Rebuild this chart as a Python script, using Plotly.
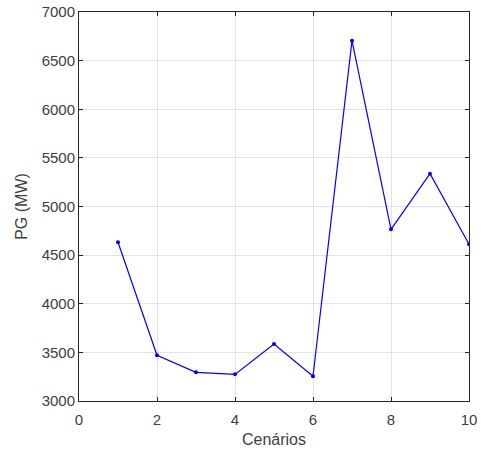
import plotly.graph_objects as go

# Scenario index and generated power (MW)
cenarios = [1, 2, 3, 4, 5, 6, 7, 8, 9, 10]
pg_mw = [4632, 3470, 3295, 3274, 3586, 3254, 6705, 4765, 5337, 4611]

x_ticks = [0, 2, 4, 6, 8, 10]
y_ticks = [3000, 3500, 4000, 4500, 5000, 5500, 6000, 6500, 7000]

axis_color = "#262626"
grid_color = "#e3e3e3"
text_color = "#404040"
font_family = "Liberation Sans, Arial, sans-serif"

fig = go.Figure(
    go.Scatter(
        x=cenarios,
        y=pg_mw,
        mode="lines+markers",
        line=dict(color="#0000ff", width=1.2),
        marker=dict(color="#0000ff", size=4),
        showlegend=False,
    )
)

common_axis = dict(
    showline=True,
    linecolor=axis_color,
    linewidth=1,
    mirror="ticks",
    ticks="inside",
    ticklen=4,
    tickcolor=axis_color,
    showgrid=True,
    gridcolor=grid_color,
    gridwidth=1,
    zeroline=False,
    automargin=False,
    tickfont=dict(family=font_family, size=15, color=text_color),
)

fig.update_xaxes(
    range=[0, 10],
    tickvals=x_ticks,
    ticklabelstandoff=5,
    title=dict(text="Cenários", font=dict(family=font_family, size=16, color=text_color), standoff=6),
    **common_axis,
)
fig.update_yaxes(
    range=[3000, 7000],
    tickvals=y_ticks,
    title=dict(text="PG (MW)", font=dict(family=font_family, size=16, color=text_color), standoff=10),
    **common_axis,
)

fig.update_layout(
    width=481,
    height=450,
    margin=dict(l=79, r=12, t=12, b=49),
    paper_bgcolor="white",
    plot_bgcolor="white",
)

fig.write_html("out.html")
